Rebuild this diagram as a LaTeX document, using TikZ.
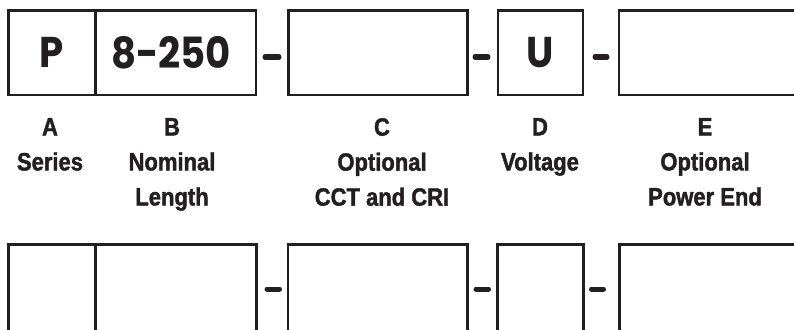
\documentclass[tikz,border=0pt]{standalone}
\usepackage{fontspec}
\setmainfont{Liberation Sans}
\newfontfamily\labelfont[FakeStretch=0.88,FakeBold=1.6]{Liberation Sans}
\newfontfamily\cellfont[FakeStretch=0.9]{Poppins}
\usetikzlibrary{positioning}
\definecolor{ink}{RGB}{35,31,32}

\begin{document}
\begin{tikzpicture}[x=1pt,y=-1pt,
  cell/.style={draw=ink,line width=2.6pt,inner sep=0pt,text=ink,
    font=\cellfont\fontseries{sb}\selectfont\fontsize{43}{43}\selectfont},
  sep/.style={draw=ink,line width=5pt,line cap=round},
  lbl/.style={font=\labelfont\bfseries\fontsize{25}{35}\selectfont,text=ink,align=center,anchor=north,inner sep=0pt}]
\useasboundingbox (0,0) rectangle (794,329);
\clip (0,0) rectangle (794,329);
% top row
\node[cell,minimum width=86.6pt,minimum height=84.5pt] (topA) at (52,52.75) {P};
\node[cell,minimum width=160.7pt,minimum height=84.5pt] (topB) at (175.65,52.75) {\hspace{-9pt}8-250};
\node[cell,minimum width=178.6pt,minimum height=84.5pt] (topC) at (378,52.75) {};
\node[cell,minimum width=85pt,minimum height=84.5pt] (topD) at (540.5,52.75) {U};
\node[cell,minimum width=191pt,minimum height=84.5pt] (topE) at (714.5,52.75) {};
\draw[sep] (265,57) -- (279,57);
\draw[sep] (475,57) -- (488,57);
\draw[sep] (595,57) -- (607,57);
% labels
\node[lbl] (lblA) at (50,118) {A\\Series};
\node[lbl] (lblB) at (172,118) {B\\Nominal\\Length};
\node[lbl] (lblC) at (382,118) {C\\Optional\\CCT and CRI};
\node[lbl] (lblD) at (540,118) {D\\Voltage};
\node[lbl] (lblE) at (705,118) {E\\Optional\\Power End};
% bottom row
\node[cell,minimum width=86.6pt,minimum height=100.5pt] (botA) at (52,294.75) {};
\node[cell,minimum width=161.4pt,minimum height=100.5pt] (botB) at (176,294.75) {};
\node[cell,minimum width=179.7pt,minimum height=100.5pt] (botC) at (377.85,294.75) {};
\node[cell,minimum width=86.2pt,minimum height=100.5pt] (botD) at (540.4,294.75) {};
\node[cell,minimum width=190.5pt,minimum height=100.5pt] (botE) at (714.75,294.75) {};
\draw[sep] (267,289) -- (279.5,289);
\draw[sep] (476,289) -- (488.5,289);
\draw[sep] (591.5,289) -- (603.5,289);
\end{tikzpicture}
\end{document}
